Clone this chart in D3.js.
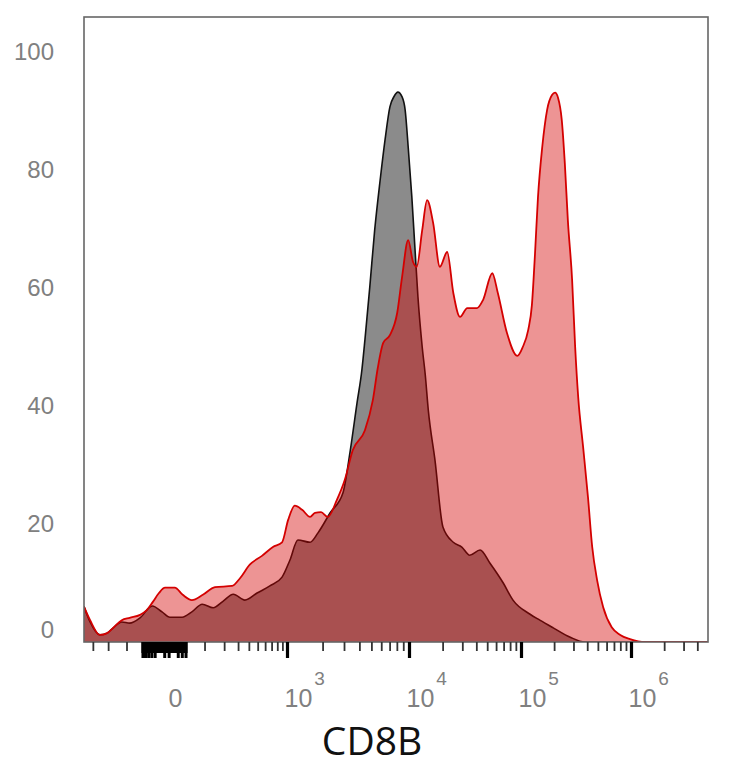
<!DOCTYPE html>
<html>
<head>
<meta charset="utf-8">
<script src="https://cdn.jsdelivr.net/npm/d3@7"></script>
<style>
    body { margin: 0; background: #ffffff; }
    svg { display: block; }
</style>
</head>
<body>
<div id="chart"></div>
<script>
// Histogram data, display channels 0-1024 against % of max
const isoChannels = [0, 10, 26, 38, 48, 62, 75, 92, 112, 128, 141, 161, 177, 194, 212, 228, 245, 264, 284, 305,
    325, 338, 351, 371, 384, 404, 425, 437, 448, 456, 461, 469, 477, 486, 494, 502, 509, 515, 522, 527,
    532, 538, 543, 548, 555, 560, 565, 576, 589, 606, 620, 633, 650, 666, 688, 704, 732, 748, 770, 798,
    822, 1024];
const isoCounts = [6.0, 3.4, 1.2, 1.5, 2.4, 3.4, 3.2, 4.1, 6.1, 5.1, 4.2, 4.2, 5.1, 6.4, 5.8, 6.9, 8.1, 7.1, 8.3, 9.5,
    11.0, 13.9, 17.3, 16.9, 18.5, 21.9, 25.3, 32.5, 40.5, 46.1, 51.2, 60.2, 69.8, 78.3, 85.1, 90.7, 92.5, 93.2, 92.4, 90.2,
    83.9, 75.4, 66.9, 58.5, 50.0, 45.3, 39.3, 30.8, 19.5, 16.9, 16.1, 14.7, 15.6, 13.4, 10.0, 7.1, 4.7, 3.7, 2.4, 0.8,
    0, 0];

const cd8Channels = [0, 10, 26, 38, 48, 62, 75, 92, 103, 113, 123, 133, 149, 162, 177, 195, 215, 243, 256, 272,
    292, 310, 325, 335, 346, 358, 371, 379, 389, 400, 415, 428, 441, 461, 474, 482, 491, 502, 514, 522,
    532, 540, 546, 555, 563, 573, 584, 596, 606, 617, 629, 645, 655, 670, 679, 694, 711, 720, 729, 735,
    740, 745, 752, 760, 768, 773, 778, 784, 789, 794, 801, 806, 811, 819, 827, 834, 842, 852, 866, 880,
    896, 921, 1024];
const cd8Counts = [6.0, 3.7, 1.2, 1.5, 2.4, 3.7, 4.1, 4.6, 5.4, 6.8, 8.3, 9.2, 9.2, 8.0, 7.1, 8.0, 9.3, 9.5, 10.8, 13.1,
    14.6, 16.1, 16.9, 20.7, 23.1, 22.4, 21.2, 21.9, 22.0, 21.2, 24.1, 27.5, 32.5, 35.9, 41.0, 46.4, 50.7, 52.0, 55.8, 61.9,
    68.1, 64.4, 63.6, 69.8, 74.9, 71.0, 63.6, 66.1, 59.2, 55.1, 56.6, 56.6, 58.0, 62.5, 59.2, 52.4, 48.5, 50.0, 52.9, 57.1,
    65.6, 75.4, 83.9, 90.2, 92.7, 93.1, 92.2, 88.5, 81.2, 71.5, 61.4, 50.0, 41.5, 33.1, 24.6, 16.1, 10.5, 5.9, 2.5, 1.2,
    0.5, 0, 0];

// Axis ticks (fluorescence values)
const yTicks = [0, 20, 40, 60, 80, 100];
const xLabelValues = [0, 1e3, 1e4, 1e5, 1e6];
const xLabelBase = ['0', '10', '10', '10', '10'];
const xLabelExp = ['', '3', '4', '5', '6'];
const xMajorTicks = [1e3, 1e4, 1e5, 1e6];
const zeroTicks = [-80, -75, -70, -65, -60, -55, -50, -45, -40, -35, -30, -25, -20, -15, -10, -5, 0, 5, 10, 15, 20, 25, 30, 35];
const zeroDeepTicks = [-80, -75, -70, -60, -50, -40, -15, -5, 15, 25, 35];
const negMinorTicks = [-400, -265, -150];
const linMinorTicks = [100, 200, 300, 400, 500, 600, 700, 800, 900];
const decades = [1e3, 1e4, 1e5];
const decadeSteps = [2, 3, 4, 5, 6, 7, 8, 9];
const lastDecadeSteps = [2, 3, 4];
const xTitle = 'CD8B';

const width = 734;
const height = 768;
const plot = { left: 84, right: 708, top: 17, bottom: 642 };

const svg = d3.select('#chart')
    .append('svg')
    .attr('width', width)
    .attr('height', height);

// Scales
const x = d3.scaleLinear()
    .domain([0, 1024])
    .range([plot.left, plot.right]);

const y = d3.scaleLinear()
    .domain([0, 100])
    .range([plot.bottom, 52]);

// biexponential-like display transform for the tick values
const C = 100;
const biex = v => Math.sign(v) * Math.log1p(Math.abs(v) / C);
const xv = d3.scaleLinear()
    .domain([-500, 0, 1e3, 1e4, 1e5, 1e6, 5e6].map(biex))
    .range([plot.left, 171, 287, 409, 521, 631, plot.right]);
const xPos = v => xv(biex(v));

const isoData = isoChannels.map((c, i) => ({ ch: c, v: isoCounts[i] }));
const cd8Data = cd8Channels.map((c, i) => ({ ch: c, v: cd8Counts[i] }));

svg.append('clipPath')
    .attr('id', 'clip')
    .append('rect')
    .attr('x', plot.left)
    .attr('y', plot.top)
    .attr('width', plot.right - plot.left)
    .attr('height', plot.bottom - plot.top);

const area = d3.area()
    .x(d => x(d.ch))
    .y0(y(0))
    .y1(d => y(d.v))
    .curve(d3.curveMonotoneX);

const line = d3.line()
    .x(d => x(d.ch))
    .y(d => y(d.v))
    .curve(d3.curveMonotoneX);

const g = svg.append('g').attr('clip-path', 'url(#clip)');

// Isotype (grey) histogram
g.append('path')
    .datum(isoData)
    .attr('fill', '#8b8b8b')
    .attr('d', area);

g.append('path')
    .datum(isoData)
    .attr('fill', 'none')
    .attr('stroke', '#111111')
    .attr('stroke-width', 1.6)
    .attr('d', line);

// CD8B (red) histogram
g.append('path')
    .datum(cd8Data)
    .attr('fill', 'rgb(213,0,0)')
    .attr('fill-opacity', 0.42)
    .attr('d', area);

g.append('path')
    .datum(cd8Data)
    .attr('fill', 'none')
    .attr('stroke', '#d40000')
    .attr('stroke-width', 1.8)
    .attr('d', line);

// Frame
svg.append('rect')
    .attr('x', plot.left)
    .attr('y', plot.top)
    .attr('width', plot.right - plot.left)
    .attr('height', plot.bottom - plot.top)
    .attr('fill', 'none')
    .attr('stroke', '#666666')
    .attr('stroke-width', 1.6);

// X ticks, placed through the biex transform
function drawTicks(values, size, strokeWidth, color) {
    const axis = svg.append('g')
        .attr('transform', `translate(0, ${plot.bottom})`)
        .call(d3.axisBottom(xv).tickValues(values.map(biex)).tickSize(size).tickFormat(''));
    axis.select('.domain').remove();
    axis.selectAll('line')
        .attr('stroke', color)
        .attr('stroke-width', strokeWidth);
}

const decadeMinor = decades.flatMap(d => decadeSteps.map(s => s * d))
    .concat(lastDecadeSteps.map(s => s * 1e6));

drawTicks(negMinorTicks.concat(linMinorTicks, decadeMinor), 9, 1.8, '#333333');
drawTicks(zeroTicks, 11, 3, '#000000');
drawTicks(zeroDeepTicks, 16, 3, '#000000');
drawTicks(xMajorTicks, 16, 3.2, '#000000');

// X labels with superscript exponents
const labels = svg.append('g')
    .style('font-family', '"Liberation Sans", Arial, sans-serif')
    .style('fill', '#808080');

xLabelValues.forEach((v, i) => {
    const t = labels.append('text')
        .attr('x', xPos(v) - 2.5)
        .attr('y', 707)
        .style('font-size', '25px');
    t.append('tspan').text(xLabelBase[i]);
    if (xLabelExp[i]) {
        t.append('tspan')
            .attr('dx', 2)
            .attr('dy', -22)
            .style('font-size', '19px')
            .text(xLabelExp[i]);
    }
});

// Y labels
labels.selectAll('.ylab')
    .data(yTicks)
    .enter()
    .append('text')
    .attr('class', 'ylab')
    .attr('x', 54)
    .attr('y', d => d === 0 ? y(d) - 12 : y(d))
    .attr('dy', '0.35em')
    .attr('text-anchor', 'end')
    .style('font-size', '24px')
    .text(d => d);

// Axis title
svg.append('text')
    .attr('x', 372)
    .attr('y', 755)
    .attr('text-anchor', 'middle')
    .style('font-family', '"Open Sans", "Noto Sans", sans-serif')
    .style('font-size', '39px')
    .style('fill', '#111111')
    .text(xTitle);
</script>
</body>
</html>
